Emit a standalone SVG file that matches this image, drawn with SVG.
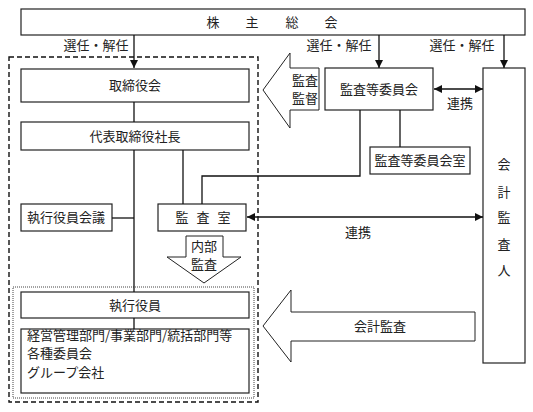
<svg xmlns="http://www.w3.org/2000/svg" width="533" height="412" viewBox="0 0 533 412">
<style>
.box{fill:#fff;stroke:#222;stroke-width:1.2}
.ln{fill:none;stroke:#111;stroke-width:1.3}
.blk{fill:#fff;stroke:#222;stroke-width:1}
text{font-family:"Noto Sans CJK JP","Noto Sans CJK SC",sans-serif;font-size:13px;fill:#222}
.c{text-anchor:middle}
</style>
<defs>
<marker id="ah" viewBox="0 0 10 10" refX="10" refY="5" markerWidth="8" markerHeight="8" markerUnits="userSpaceOnUse" orient="auto-start-reverse">
<path d="M0,0 L10,5 L0,10 z" fill="#111"/>
</marker>
</defs>

<g id="outer-frame">
<rect x="9" y="57" width="249" height="345" fill="none" stroke="#111" stroke-width="1.4" stroke-dasharray="5,3"/>
<rect x="13" y="287" width="241" height="111" fill="none" stroke="#444" stroke-width="1" stroke-dasharray="1,1"/>
</g>

<g id="shareholders">
<rect class="box" x="21" y="9" width="504" height="26"/>
<text x="213 252 292 331" y="27" class="c">株主総会</text>
</g>

<g id="board">
<rect class="box" x="21" y="69" width="228" height="33"/>
<text x="135" y="90" class="c">取締役会</text>
</g>

<g id="president">
<rect class="box" x="21" y="122" width="228" height="28"/>
<text x="135" y="141" class="c">代表取締役社長</text>
</g>

<g id="exec-meeting">
<rect class="box" x="21" y="204" width="91" height="27"/>
<text x="66" y="222" class="c">執行役員会議</text>
</g>

<g id="audit-office">
<rect class="box" x="158" y="204" width="88" height="27"/>
<text x="182 203 224" y="222" class="c">監査室</text>
</g>

<g id="audit-committee">
<rect class="box" x="325" y="68" width="108" height="42"/>
<text x="379" y="94" class="c">監査等委員会</text>
</g>

<g id="audit-committee-office">
<rect class="box" x="370" y="147" width="100" height="27"/>
<text x="420" y="165" class="c">監査等委員会室</text>
</g>

<g id="accounting-auditor">
<rect class="box" x="483" y="68" width="42" height="295"/>
<text x="504 504 504 504 504" y="169 197 222 249 275" class="c">会計監査人</text>
</g>

<g id="executive-officers">
<rect class="box" x="21" y="292" width="228" height="26"/>
<text x="135" y="310" class="c">執行役員</text>
</g>

<g id="departments">
<rect class="box" x="21" y="329" width="228" height="64"/>
<text x="27" y="340">経営管理部門/事業部門/統括部門等</text>
<text x="27" y="358">各種委員会</text>
<text x="27" y="377">グループ会社</text>
</g>

<g id="connectors">
<path class="ln" d="M134,35 V68" marker-end="url(#ah)"/>
<path class="ln" d="M379,35 V68" marker-end="url(#ah)"/>
<path class="ln" d="M504,35 V68" marker-end="url(#ah)"/>
<path class="ln" d="M134,102 V122"/>
<path class="ln" d="M134,150 V292"/>
<path class="ln" d="M112,218 H134"/>
<path class="ln" d="M183,150 V204"/>
<path class="ln" d="M360,110 V176 H202 V204"/>
<path class="ln" d="M400,110 V147"/>
<path class="ln" d="M134,318 V329"/>
<path class="ln" d="M434,89 H483" marker-start="url(#ah)" marker-end="url(#ah)"/>
<path class="ln" d="M247,217 H483" marker-start="url(#ah)" marker-end="url(#ah)"/>
<path class="blk" d="M263,90 L290,53 L290,68 L319,68 L319,110 L290,110 L290,128 Z"/>
<path class="blk" d="M186,236 L223,236 L223,257 L241,257 L204,283 L167,257 L186,257 Z"/>
<path class="blk" d="M263,326 L291,290 L291,312 L475,312 L475,341 L291,341 L291,362 Z"/>
</g>

<g id="labels">
<rect x="58" y="37" width="72" height="17" fill="#fff"/>
<text x="96" y="50" class="c">選任・解任</text>
<text x="339" y="50" class="c">選任・解任</text>
<text x="462" y="50" class="c">選任・解任</text>
<text x="460" y="108" class="c">連携</text>
<text x="358" y="237" class="c">連携</text>
<text x="305" y="85" class="c">監査</text>
<text x="305" y="103" class="c">監督</text>
<text x="204" y="251" class="c">内部</text>
<text x="204" y="269" class="c">監査</text>
<text x="380" y="331" class="c">会計監査</text>
</g>
</svg>
